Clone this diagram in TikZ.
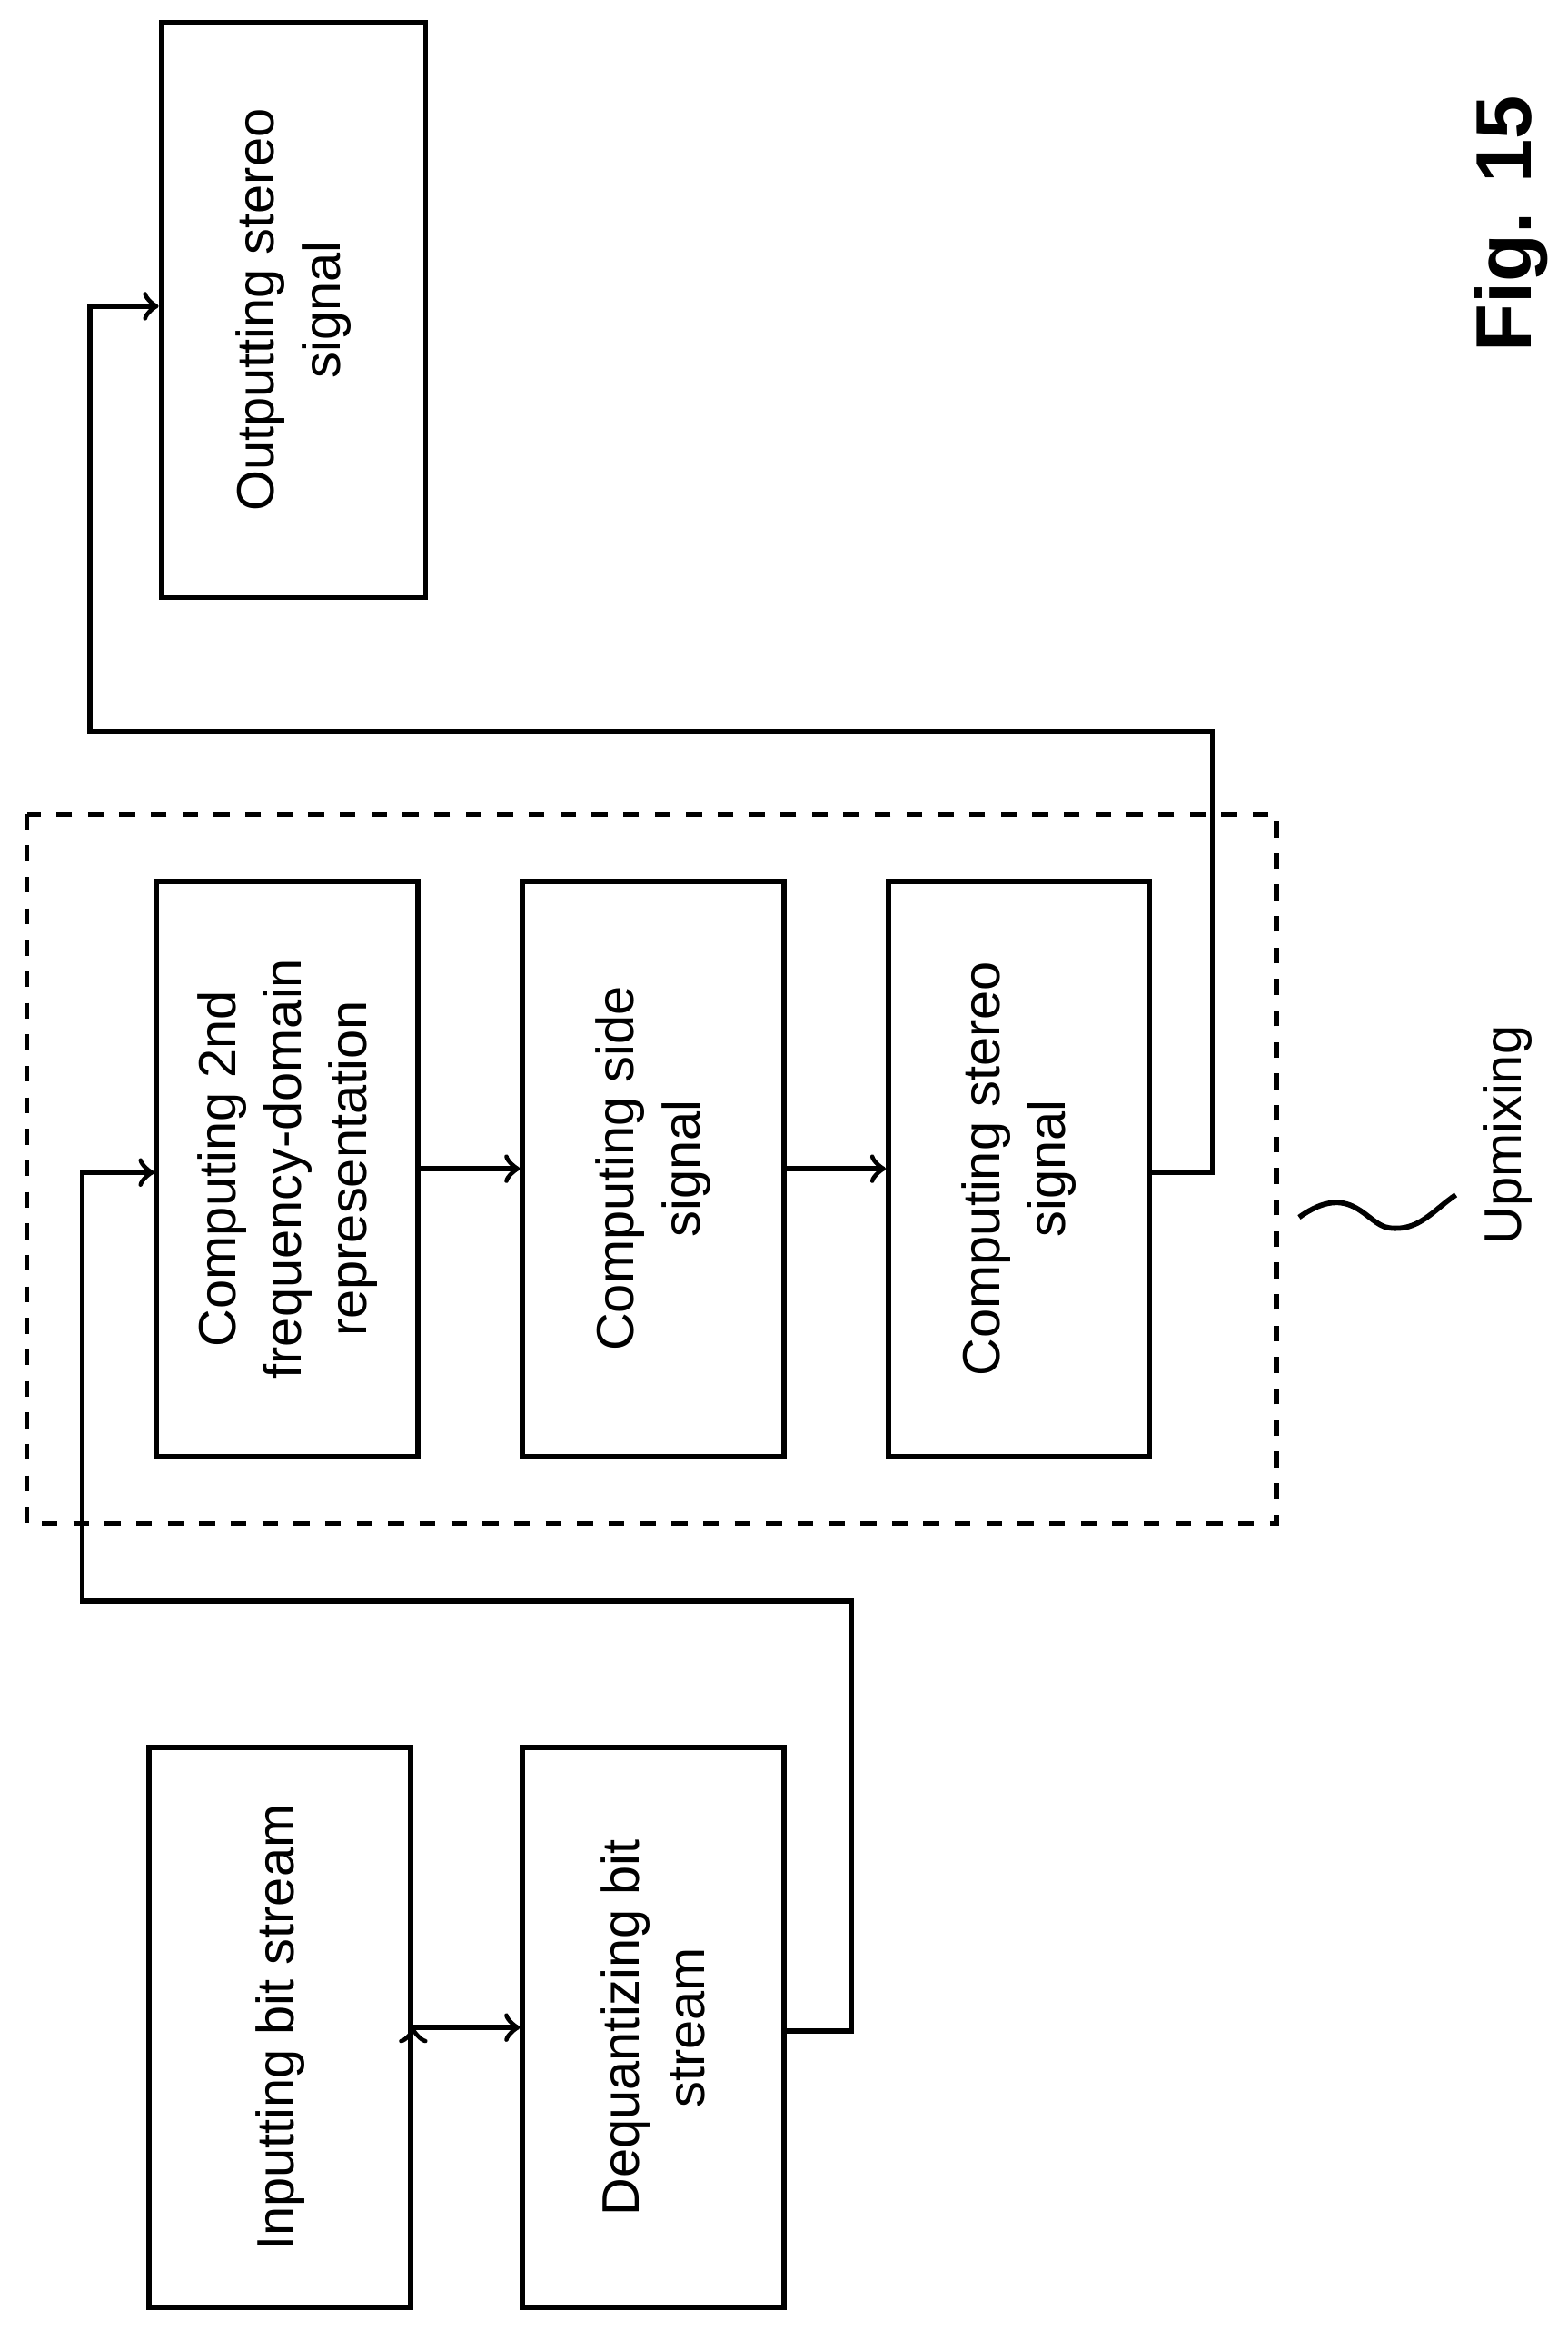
\documentclass[tikz,border=0pt]{standalone}
\usepackage{fontspec}
\setmainfont{Liberation Sans}
\usetikzlibrary{arrows}
\begin{document}
\begin{tikzpicture}[x=0.1mm,y=-0.1mm,line width=1pt,
  blk/.style={draw,rotate=90,align=center,inner sep=3pt,font=\fontsize{10}{12.5}\selectfont}]
		\useasboundingbox (0,0) rectangle (1050,1560);
		\draw (187.5,1357.5) node[blk,minimum width=3.75cm,minimum height=1.75cm] (inp) {Inputting bit stream}
		(437.5,1357.5) node[blk,minimum width=3.75cm,minimum height=1.75cm] (deq) {Dequantizing bit\\stream}
		(192.5,782.5) node[blk,minimum width=3.85cm,minimum height=1.75cm] (fd2) {Computing 2nd\\frequency-domain\\representation}
		(437.5,782.5) node[blk,minimum width=3.85cm,minimum height=1.75cm] (side) {Computing side\\signal}
		(682.5,782.5) node[blk,minimum width=3.85cm,minimum height=1.75cm] (ster) {Computing stereo\\signal}
		(196.5,207.5) node[blk,minimum width=3.85cm,minimum height=1.77cm] (outp) {Outputting stereo\\signal};
		
		\draw[dashed] (18,545) rectangle (855,1020);
		
		\draw[->] (inp.south) ++(0,0) coordinate (a1);
		\draw[->] (inp) -- (deq);
		\draw[->] (deq.south |- 0,1360) -| (570,1072) -| (55,785) -- (fd2.north |- 0,785);
		\draw[->] (fd2) -- (side);
		\draw[->] (side) -- (ster);
		\draw[->] (ster.south |- 0,785) -| (812,490) -| (60,205) -- (outp.north |- 0,205);
		
		\draw (870,815) .. controls (905,790) and (915,820) .. (930,822) .. controls (950,825) and (960,810) .. (975,800);
		\node[rotate=90,font=\fontsize{10}{12}\selectfont] (upm) at (1010,760) {Upmixing};
		\node[rotate=90,font=\fontsize{15}{18}\selectfont\bfseries] (fig) at (1012,150) {Fig. 15};
	\end{tikzpicture}
\end{document}
